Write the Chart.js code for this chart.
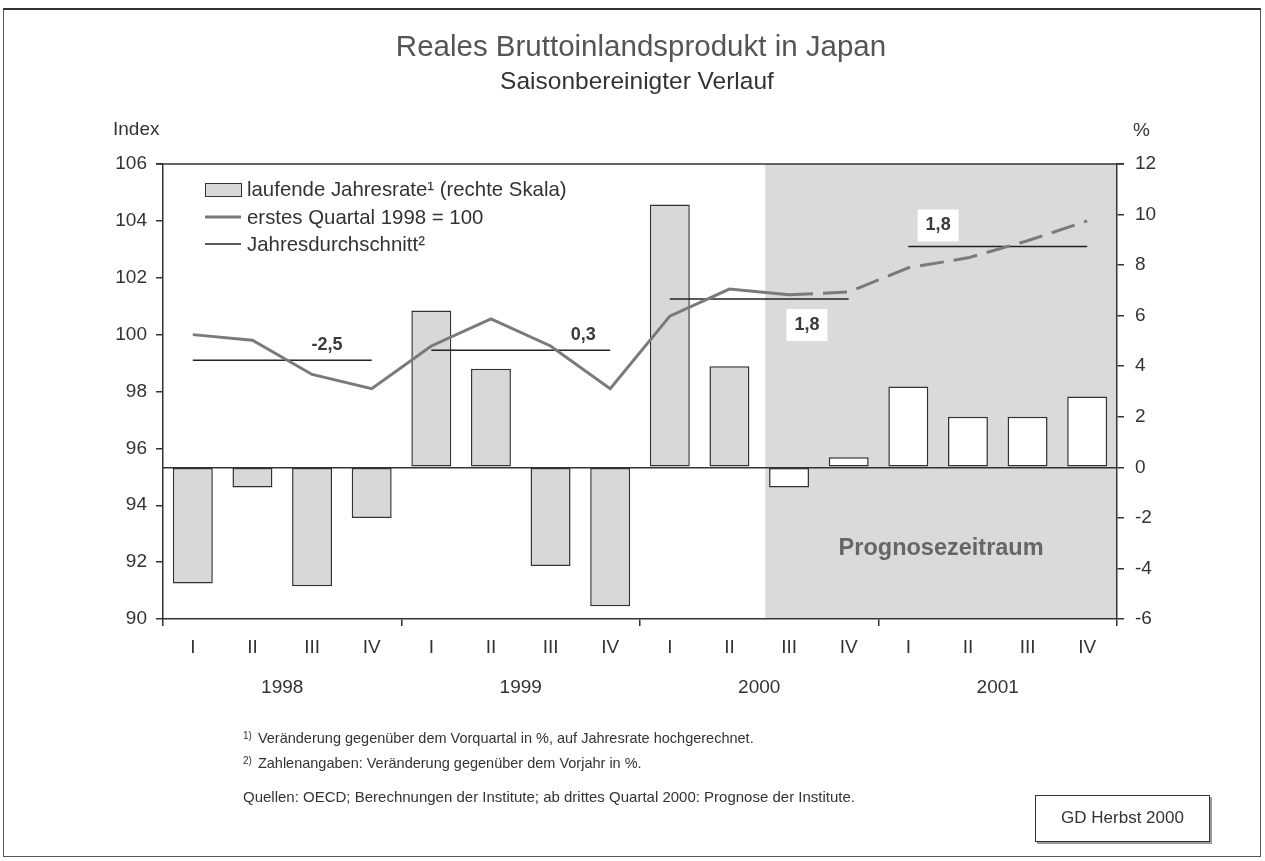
<!DOCTYPE html>
<html>
<head>
<meta charset="utf-8">
<script src="https://cdn.jsdelivr.net/npm/chart.js@4.4.1/dist/chart.umd.min.js"></script>
<style>
html,body{margin:0;padding:0;background:#fff;}
body{width:1265px;height:861px;position:relative;overflow:hidden;font-family:"Liberation Sans",Arial,Helvetica,sans-serif;}
#frame{position:absolute;left:3px;top:8px;width:1258px;height:849px;border:1.5px solid #555;border-top:2px solid #333;box-sizing:border-box;}
canvas{position:absolute;left:0;top:0;}
.t{position:absolute;white-space:nowrap;color:#333;}
#title{left:641px;top:30px;transform:translateX(-50%);font-size:29.5px;line-height:32px;color:#555;}
#subtitle{left:637px;top:68px;transform:translateX(-50%);font-size:24.5px;line-height:26px;color:#333;}
.fn{font-size:14.5px;line-height:18px;left:243px;}
.fn sup{font-size:10px;position:relative;top:-2px;vertical-align:top;margin-right:6px;}
#gd{position:absolute;left:1035px;top:795px;width:175px;height:47px;border:1.5px solid #333;box-sizing:border-box;box-shadow:2px 2px 0 #999;font-size:17px;line-height:44px;text-align:center;color:#333;}
</style>
</head>
<body>
<div id="frame"></div>
<canvas id="c" width="1265" height="861"></canvas>
<div class="t" id="title">Reales Bruttoinlandsprodukt in Japan</div>
<div class="t" id="subtitle">Saisonbereinigter Verlauf</div>
<div class="t fn" style="top:729px;"><sup>1)</sup>Veränderung gegenüber dem Vorquartal in %, auf Jahresrate hochgerechnet.</div>
<div class="t fn" style="top:754px;"><sup>2)</sup>Zahlenangaben: Veränderung gegenüber dem Vorjahr in %.</div>
<div class="t fn" style="top:788px;font-size:15px;">Quellen: OECD; Berechnungen der Institute; ab drittes Quartal 2000: Prognose der Institute.</div>
<div id="gd">GD Herbst 2000</div>
<script>
// ---- data ----
const years = ['1998', '1999', '2000', '2001'];
const quarters = ['I', 'II', 'III', 'IV'];
// laufende Jahresrate (rechte Skala, %)
const growthRate = [-4.6, -0.8, -4.7, -2.0, 6.2, 3.9, -3.9, -5.5, 10.4, 4.0, -0.8, 0.4, 3.2, 2.0, 2.0, 2.8];
// Index, erstes Quartal 1998 = 100
const gdpIndex = [100.0, 99.8, 98.6, 98.1, 99.6, 100.55, 99.6, 98.1, 100.65, 101.6, 101.4, 101.5, 102.35, 102.7, 103.3, 104.0];
// Jahresdurchschnitt (Index) and Veränderung gegenüber Vorjahr
const annualAvg = [99.1, 99.45, 101.25, 103.1];
const annualChange = ['-2,5', '0,3', '1,8', '1,8'];
const forecastStart = 10; // ab drittes Quartal 2000
const leftTicks = [90, 106, 2];
const rightTicks = [-6, 12, 2];

// label placement (category offset within chart, pixel shift from line, boxed)
const changeLabelPlace = [
  {cat: 2.25, dy: -15, box: false},
  {cat: 6.55, dy: -15, box: false},
  {cat: 10.3, dy: 26, box: true},
  {cat: 12.5, dy: -21, box: true}
];

const FONT = '"Liberation Sans", Arial, Helvetica, sans-serif';
Chart.defaults.font.family = FONT;
Chart.defaults.color = '#333';

const labels = years.flatMap(() => quarters);

const avgDatasets = annualAvg.map((v, k) => ({
  type: 'line',
  label: 'Jahresdurchschnitt²',
  data: labels.map((_, i) => (Math.floor(i / 4) === k ? v : null)),
  yAxisID: 'y',
  borderColor: '#222',
  borderWidth: 1.5,
  pointRadius: 0,
  spanGaps: false,
  order: 0
}));

const datasets = [
  {
    type: 'line',
    label: 'erstes Quartal 1998 = 100',
    data: gdpIndex,
    yAxisID: 'y',
    borderColor: '#7a7a7a',
    borderWidth: 3,
    pointRadius: 0,
    tension: 0,
    segment: {
      borderDash: ctx => ctx.p0DataIndex >= forecastStart ? [24, 10] : undefined
    },
    order: 0
  },
  ...avgDatasets,
  {
    type: 'bar',
    label: 'laufende Jahresrate¹ (rechte Skala)',
    data: growthRate,
    yAxisID: 'y1',
    backgroundColor: growthRate.map((_, i) => i >= forecastStart ? '#ffffff' : '#d8d8d8'),
    borderColor: '#333',
    borderWidth: 1.5,
    borderSkipped: false,
    barPercentage: 0.67,
    categoryPercentage: 1.0,
    order: 1
  }
];

const decor = {
  id: 'decor',
  beforeDraw(chart) {
    const {ctx, chartArea: a, scales: {x, y1}} = chart;
    const cw = x.getPixelForValue(1) - x.getPixelForValue(0);
    const sx = x.getPixelForValue(forecastStart) - 0.4 * cw;
    ctx.save();
    ctx.fillStyle = '#dadada';
    ctx.fillRect(sx, a.top, a.right - sx, a.bottom - a.top);
    ctx.fillStyle = '#666';
    ctx.font = 'bold 23.5px ' + FONT;
    ctx.textAlign = 'center';
    ctx.textBaseline = 'middle';
    ctx.fillText('Prognosezeitraum', (sx + a.right) / 2, y1.getPixelForValue(-3.2));
    ctx.restore();
  },
  afterDatasetsDraw(chart) {
    const {ctx, scales: {x, y}} = chart;
    const cw = x.getPixelForValue(1) - x.getPixelForValue(0);
    ctx.save();
    ctx.font = 'bold 18px ' + FONT;
    ctx.textAlign = 'center';
    ctx.textBaseline = 'middle';
    annualChange.forEach((txt, k) => {
      const p = changeLabelPlace[k];
      const px = x.getPixelForValue(0) + p.cat * cw;
      const py = y.getPixelForValue(annualAvg[k]) + p.dy;
      if (p.box) {
        const w = ctx.measureText(txt).width + 16;
        ctx.fillStyle = '#fff';
        ctx.fillRect(px - w / 2, py - 16, w, 32);
      }
      ctx.fillStyle = '#3a3a3a';
      ctx.fillText(txt, px, py);
    });
    // legend
    const lx = 205, ly = [189, 217, 244];
    ctx.font = '20.4px ' + FONT;
    ctx.textAlign = 'left';
    ctx.fillStyle = '#d8d8d8';
    ctx.fillRect(lx, ly[0] - 6, 36, 13);
    ctx.strokeStyle = '#333';
    ctx.lineWidth = 1;
    ctx.strokeRect(lx + 0.5, ly[0] - 6 + 0.5, 36, 13);
    ctx.beginPath();
    ctx.strokeStyle = '#7a7a7a';
    ctx.lineWidth = 3;
    ctx.moveTo(lx, ly[1]); ctx.lineTo(lx + 36, ly[1]);
    ctx.stroke();
    ctx.beginPath();
    ctx.strokeStyle = '#222';
    ctx.lineWidth = 1.5;
    ctx.moveTo(lx, ly[2]); ctx.lineTo(lx + 36, ly[2]);
    ctx.stroke();
    ctx.fillStyle = '#333';
    const names = [datasets[datasets.length - 1].label, datasets[0].label, avgDatasets[0].label];
    names.forEach((n, i) => ctx.fillText(n, lx + 42, ly[i] + 1));
    ctx.restore();
  },
  afterDraw(chart) {
    const {ctx, chartArea: a, scales: {x}} = chart;
    ctx.save();
    ctx.strokeStyle = '#333';
    ctx.lineWidth = 1.5;
    ctx.beginPath();
    ctx.moveTo(a.left - 7, a.top); ctx.lineTo(a.right + 7, a.top);
    ctx.stroke();
    ctx.fillStyle = '#333';
    ctx.font = '19px ' + FONT;
    ctx.textAlign = 'center';
    ctx.textBaseline = 'middle';
    years.forEach((yr, k) => {
      const cx = (x.getPixelForValue(4 * k) + x.getPixelForValue(4 * k + 3)) / 2;
      ctx.fillText(yr, cx, 688);
    });
    ctx.textAlign = 'left';
    ctx.fillText('Index', 113, 130);
    ctx.fillText('%', 1133, 131);
    ctx.restore();
  }
};

new Chart(document.getElementById('c'), {
  data: {labels, datasets},
  options: {
    responsive: false,
    devicePixelRatio: 1,
    animation: false,
    layout: {padding: {top: 164, left: 0, right: 0, bottom: 0}},
    plugins: {legend: {display: false}, title: {display: false}, tooltip: {enabled: false}},
    scales: {
      x: {
        type: 'category',
        offset: true,
        grid: {
          offset: true,
          drawOnChartArea: false,
          drawTicks: true,
          tickLength: 7,
          lineWidth: 1.5,
          color: ctx => (ctx.index === undefined || ctx.index % 4 === 0) ? '#333' : 'rgba(0,0,0,0)'
        },
        border: {display: true, color: '#333', width: 1.5},
        ticks: {color: '#333', font: {size: 19}, padding: 10, maxRotation: 0, autoSkip: false},
        afterFit: s => { s.height = 242; }
      },
      y: {
        position: 'left',
        min: leftTicks[0], max: leftTicks[1],
        ticks: {stepSize: leftTicks[2], color: '#333', font: {size: 19}, padding: 9},
        grid: {drawOnChartArea: false, tickLength: 7, color: '#333', lineWidth: 1.5},
        border: {display: true, color: '#333', width: 1.5},
        afterFit: s => { s.width = 163; }
      },
      y1: {
        position: 'right',
        min: rightTicks[0], max: rightTicks[1],
        ticks: {stepSize: rightTicks[2], color: '#333', font: {size: 19}, padding: 11},
        grid: {
          drawOnChartArea: true,
          tickLength: 7,
          lineWidth: 1.5,
          tickColor: '#333',
          color: ctx => (ctx.tick && ctx.tick.value === 0) ? '#333' : 'rgba(0,0,0,0)'
        },
        border: {display: true, color: '#333', width: 1.5},
        afterFit: s => { s.width = 148; }
      }
    }
  },
  plugins: [decor]
});
</script>
</body>
</html>
